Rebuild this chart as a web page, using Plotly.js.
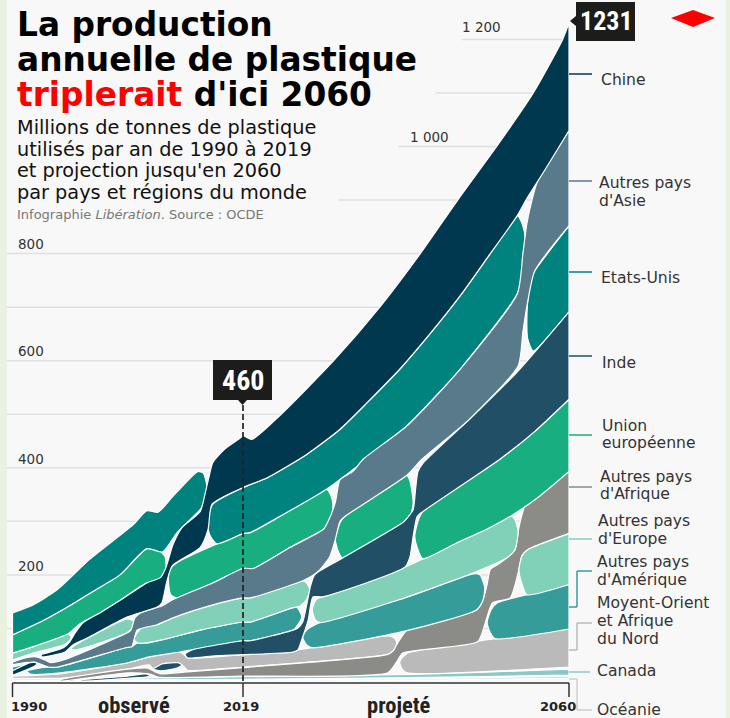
<!DOCTYPE html>
<html><head><meta charset="utf-8">
<script src="https://cdn.plot.ly/plotly-3.0.1.min.js"></script>
<style>html,body{margin:0;padding:0;background:#f8f8f8}#c{width:730px;height:718px}</style>
</head><body><div id="c"></div>
<script>
// [year, million tonnes] outlines, one list per visible piece of each band
const chine1=[[1990,21],[1991,28],[1992.2,36],[1993,36],[1993,32],[1992,24],[1990.4,15],[1990,13]];
const chine2=[[1993.6,51],[1994.8,56],[1996.4,64],[1997.2,75],[1997.9,92],[1998.9,111],[2001,129],[2003.5,152],[2006.9,185],[2008.6,195],[2009.3,214],[2010.2,257],[2011.3,288],[2013.6,318],[2014.2,350],[2014.7,382],[2015.2,410],[2016.7,435],[2018.6,455],[2019,460],[2020.1,453],[2023.8,500],[2030.4,600],[2036.2,700],[2041.3,800],[2046,900],[2050.9,1000],[2055.5,1100],[2059.2,1200],[2060,1231],[2060,1030],[2057,957],[2054.7,903],[2053.5,871],[2050,798],[2046.3,721],[2042.5,650],[2038.7,584],[2034.7,523],[2031.2,472],[2027,425],[2022.1,382],[2019,363],[2015.1,332],[2014.6,285],[2013.6,251],[2010.1,217],[2009.4,187],[2008.8,148],[2008.2,140],[2004.2,120],[1999.4,82],[1997.6,69],[1996.6,56],[1993.7,47]];
const usa1=[[1990,129],[1992.6,144],[1995.6,172],[1999.7,229],[2005.2,294],[2006.9,320],[2008.3,317],[2010.2,347],[2013.3,393],[2014,390],[2014.5,360],[2014,332],[2013.6,322],[2010.7,279],[2008.9,243],[2006.9,249],[2003.5,200],[2000.1,169],[1996.9,140],[1993.5,112],[1990,88]];
const usa2=[[2014.5,300],[2015.2,332],[2019,363],[2022.1,382],[2027,425],[2031.2,472],[2034.7,523],[2038.7,584],[2042.5,650],[2046.3,721],[2050,798],[2053.5,871],[2054.1,856],[2054.5,828],[2054.1,762],[2053.5,725],[2046.3,584],[2039.6,478],[2031.2,378],[2029.5,360],[2023.6,309],[2019.9,279],[2019,277],[2015.7,258],[2014.8,275]];
const usa3=[[2055.7,768],[2060,852],[2060,691],[2055.5,618],[2054.8,641],[2054.7,665],[2054.8,710],[2055.2,753]];
const asie1=[[1990,37],[1991.6,45],[1993,47],[1994.1,41],[1994.8,36],[1996.4,41],[2004.2,90],[2004.9,97],[2005.4,120],[2006.3,131],[2008.8,142],[2010.2,154],[2015.2,185],[2019,212],[2020.3,212],[2024.9,251],[2029.1,285],[2029.7,300],[2030.6,335],[2031.2,378],[2032.8,393],[2034.1,416],[2039.6,478],[2046.3,584],[2053.5,725],[2054.2,800],[2054.7,856],[2055.4,903],[2056,933],[2060,1030],[2060,852],[2055.7,768],[2054.8,710],[2054.2,654],[2053.6,590],[2047.5,491],[2041.5,416],[2039.6,386],[2031.8,309],[2031.2,300],[2030.6,266],[2029.9,234],[2028.4,206],[2026.5,189],[2019.9,157],[2019,157],[2015.2,144],[2010.2,120],[2008.2,107],[2005.7,97],[2005,66],[2004.2,64],[1995.7,28],[1994.5,28],[1992.8,37],[1991.6,36],[1990,32]];
const inde1=[[1997.2,2],[2001,7],[2004.5,11],[2006.8,15],[2007.3,12],[2006.8,9],[2004.5,7],[1999.7,2]];
const inde2=[[2007.7,24],[2008.9,34],[2010.8,36],[2011.3,32],[2010.7,26],[2008.6,21]];
const inde3=[[2011.7,52],[2012.6,60],[2019,77],[2019.9,77],[2025.3,97],[2025.9,101],[2026.5,112],[2027,144],[2027.5,180],[2028,200],[2028.7,208],[2031.2,229],[2039.1,298],[2039.7,307],[2040.4,322],[2040.7,360],[2041,393],[2041.6,408],[2047.5,491],[2053.5,579],[2060,691],[2060,528],[2055.7,468],[2051.3,416],[2041.6,318],[2040.9,309],[2040.4,272],[2040,234],[2039.4,215],[2029,159],[2027.8,159],[2027.2,116],[2026.5,84],[2025.9,60],[2025.3,56],[2019,51],[2015.5,49],[2012,45]];
const ue1=[[1990,88],[1993.5,112],[1996.9,140],[2000.1,169],[2003.5,200],[2006.9,249],[2008.5,245],[2009.2,234],[2009.3,210],[2008.9,182],[2008.3,187],[2006.9,185],[2003.5,152],[2001,129],[1998.5,109],[1997,90],[1992.6,66],[1990,54]];
const ue2=[[2009.6,191],[2009.8,210],[2010.7,223],[2015.7,258],[2019,277],[2019.9,279],[2023.6,309],[2029.5,360],[2030,350],[2030.3,332],[2030.1,307],[2029.7,292],[2029.1,285],[2024.9,251],[2020.3,212],[2019,212],[2015.2,185],[2010.7,157],[2009.9,163]];
const ue3=[[2031.6,307],[2039.6,386],[2040,375],[2040.4,335],[2040.1,313],[2039.6,300],[2031.6,230],[2031,243],[2030.6,266],[2031,290]];
const ue4=[[2041.6,318],[2051.3,416],[2055.7,468],[2060,528],[2060,393],[2056.3,347],[2053,313],[2050,288],[2045.9,260],[2041.6,230],[2041,247],[2040.6,272],[2041,300]];
const afrique1=[[1996,4],[2004.5,24],[2007,26],[2007.9,19],[2008.6,15],[2012,19],[2019,27],[2037.1,51],[2037.9,58],[2038.3,69],[2038.7,79],[2039.6,96],[2048.4,135],[2049.2,154],[2049.7,182],[2050.1,210],[2051,219],[2052.2,232],[2053.2,247],[2053.6,281],[2054.1,313],[2054.7,337],[2060,393],[2060,277],[2054.8,247],[2054.1,236],[2053.7,210],[2052.6,157],[2050.4,148],[2049.7,122],[2049.4,107],[2048.5,75],[2039.1,54],[2038.3,37],[2037.2,17],[2019,11],[2008.3,9],[2007.3,15],[2004.5,17],[1996,2]];
const europe1=[[1990,54],[1992.6,66],[1996.2,88],[1997,90],[1997.4,84],[1997,75],[1996.4,69],[1992.6,54],[1990,41]];
const europe2=[[1997.6,66],[1999.7,84],[2004.4,118],[2005.2,114],[2005.3,105],[2004.4,92],[1997.9,60],[1997.3,62]];
const europe3=[[2005.7,92],[2006.7,107],[2008.2,107],[2010.2,120],[2015.2,144],[2019,157],[2019.9,157],[2026.5,189],[2027,185],[2027.4,172],[2027,154],[2026.2,142],[2025.3,139],[2019.9,112],[2019,112],[2013.6,97],[2008.9,79],[2006.9,73],[2005.7,73],[2005.3,79]];
const europe4=[[2029,159],[2039.4,215],[2041.6,230],[2045.9,260],[2050,288],[2052.6,311],[2053.2,303],[2053.6,281],[2053.2,247],[2052.2,232],[2048,204],[2038.7,154],[2028.7,111],[2028.1,116],[2027.7,135],[2028.2,154]];
const europe5=[[2054.8,247],[2060,277],[2060,182],[2054.7,163],[2054.1,182],[2053.7,210],[2054.1,236]];
const amerique1=[[1990,28],[1991.3,32],[1991.8,30],[1991.2,24],[1990,21]];
const amerique2=[[1991.8,21],[1992.6,24],[1994.5,28],[1995.7,28],[2004.2,64],[2005,66],[2005.7,73],[2006.9,73],[2008.9,79],[2013.6,97],[2019,112],[2019.9,112],[2025.3,139],[2025.8,139],[2026.4,122],[2025.8,105],[2025.3,97],[2019.9,77],[2019,77],[2012.6,60],[2011.1,56],[2007.2,47],[2004.5,36],[1996,17],[1992.2,15]];
const amerique3=[[2027,97],[2028.7,111],[2038.7,154],[2048,202],[2048.8,200],[2049.4,176],[2049.2,154],[2048.4,135],[2039.6,96],[2027.7,64],[2027,69],[2026.5,84]];
const amerique4=[[2051,148],[2054.7,163],[2060,182],[2060,99],[2050.7,81],[2050.1,92],[2049.7,111],[2050.2,135]];
const moyen1=[[1990,11],[1993.5,13],[1996,15],[2004.5,36],[2007.2,47],[2010.8,56],[2011.6,51],[2012,45],[2019,51],[2025.3,56],[2025.9,60],[2027.7,64],[2037.5,86],[2038.2,79],[2038.3,69],[2037.9,58],[2037.1,51],[2019,28],[2012,22],[2011.6,28],[2011.3,32],[2010.8,36],[2008.9,34],[2007.7,24],[2007.2,32],[2004.5,24],[1996,7],[1993.5,7],[1990,7]];
const moyen2=[[2039.7,54],[2050.7,81],[2060,99],[2060,28],[2039.6,17],[2039,24],[2038.7,37],[2039.1,47]];
const canada1=[[1990,6],[2005,7],[2019,10],[2040,14],[2060,24],[2060,13],[2040,8],[2019,5],[2005,4],[1990,3]];
const oceanie1=[[1990,3],[2005,3.5],[2019,4],[2040,6],[2060,11],[2060,7],[2040,3],[2019,1.5],[2005,1],[1990,1]];

const series=[
 {name:'Océanie',color:'#c9e2e2',pieces:[oceanie1]},
 {name:'Canada',color:'#8cc8c8',pieces:[canada1]},
 {name:'Moyen-Orient et Afrique du Nord',color:'#bababa',pieces:[moyen1,moyen2]},
 {name:"Autres pays d'Afrique",color:'#8b8b88',pieces:[afrique1]},
 {name:"Autres pays d'Amérique",color:'#369c9a',pieces:[amerique1,amerique2,amerique3,amerique4]},
 {name:"Autres pays d'Europe",color:'#80d1b7',pieces:[europe1,europe2,europe3,europe4,europe5]},
 {name:'Union européenne',color:'#18ae80',pieces:[ue1,ue2,ue3,ue4]},
 {name:'Etats-Unis',color:'#00827f',pieces:[usa1,usa2,usa3]},
 {name:'Inde',color:'#214f66',pieces:[inde1,inde2,inde3]},
 {name:"Autres pays d'Asie",color:'#587a8a',pieces:[asie1]},
 {name:'Chine',color:'#00384f',pieces:[chine1,chine2]}
];
const gridVals=[100,200,300,400,500,600,700,800,900,1000,1100,1200];
const gridFrom=[1989.3,1989.3,1989.3,1989.3,1989.3,1989.3,1989.3,1989.3,2031,2038.5,2043.2,2046.5];
const total2019=460, total2060=1231;

const Sx=7.95, Sy=0.5355;
const xRange=[1990-12.5/Sx,2060+161/Sx], yRange=[-36/Sy,682/Sy];
const traces=[];
series.forEach(s=>s.pieces.forEach(p=>{
  const xs=[],ys=[];
  p.forEach(q=>{const n=(q[0]===1990||q[0]===2060)?3:1;for(let i=0;i<n;i++){xs.push(q[0]);ys.push(q[1]);}});
  xs.push(xs[0]);ys.push(ys[0]);
  traces.push({type:'scatter',mode:'lines',x:xs,y:ys,name:s.name,fill:'toself',fillcolor:s.color,
    line:{color:'#ffffff',width:1.2,shape:'spline',smoothing:0.6,simplify:false},hoverinfo:'skip',showlegend:false});
}));

const X=p=>p/730, Y=p=>1-p/718;
const label='"DejaVu Sans",sans-serif';
const narrow='"Liberation Sans Narrow","Roboto Condensed",Roboto,sans-serif';
const wide='"DejaVu Sans",sans-serif';
function txt(x,y,text,size,color,family){return {xref:'paper',yref:'paper',x:X(x-2),y:Y(y),text,showarrow:false,xanchor:'left',yanchor:'middle',align:'left',font:{family:family||label,size,color}};}
const LS=15.6;
const annotations=[
 txt(17,25,'<b>La production</b>',32.8,'#000',wide),
 txt(17,60,'<b>annuelle de plastique</b>',32.8,'#000',wide),
 txt(17,95,'<b><span style="color:#fe0000">triplerait</span> d\'ici 2060</b>',32.8,'#000',wide),
 txt(17,128,'Millions de tonnes de plastique',19.3,'#111',wide),
 txt(17,150,'utilisés par an de 1990 à 2019',19.3,'#111',wide),
 txt(17,171,'et projection jusqu\'en 2060',19.3,'#111',wide),
 txt(17,193,'par pays et régions du monde',19.3,'#111',wide),
 txt(17,215,'Infographie <i>Libération</i>. Source : OCDE',13,'#777'),
 txt(18,566,'200',13.5,'#333'),txt(18,459,'400',13.5,'#333'),txt(18,351,'600',13.5,'#333'),txt(18,244,'800',13.5,'#333'),
 txt(410,137,'1 000',13.5,'#333'),txt(462,27,'1 200',13.5,'#333'),
 txt(601,80,'Chine',LS,'#333'),
 txt(599,183,'Autres pays',LS,'#333'),txt(599,201,"d'Asie",LS,'#333'),
 txt(601,278,'Etats-Unis',LS,'#333'),
 txt(602,363,'Inde',LS,'#333'),
 txt(602,426,'Union',LS,'#333'),txt(602,443,'européenne',LS,'#333'),
 txt(600,477,'Autres pays',LS,'#333'),txt(600,494,"d'Afrique",LS,'#333'),
 txt(598,521,'Autres pays',LS,'#333'),txt(598,539,"d'Europe",LS,'#333'),
 txt(597,562,'Autres pays',LS,'#333'),txt(597,580,"d'Amérique",LS,'#333'),
 txt(597,603,'Moyent-Orient',LS,'#333'),txt(597,621,'et Afrique',LS,'#333'),txt(597,639,'du Nord',LS,'#333'),
 txt(597,671,'Canada',LS,'#333'),
 txt(597,710,'Océanie',LS,'#333'),
 txt(11,706,'<b>1990</b>',13,'#222',wide),
 txt(223,706,'<b>2019</b>',13,'#222',wide),
 txt(540,706,'<b>2060</b>',13,'#222',wide),
 txt(98,705,'<b>observé</b>',22.5,'#222',narrow),
 txt(367,705,'<b>projeté</b>',22.5,'#222',narrow),
 {xref:'paper',yref:'paper',x:X(243),y:Y(380),text:'<b>'+total2019+'</b>',showarrow:false,xanchor:'center',yanchor:'middle',font:{family:narrow,size:28,color:'#fff'}},
 {xref:'paper',yref:'paper',x:X(606),y:Y(21),text:'<b>'+total2060+'</b>',showarrow:false,xanchor:'center',yanchor:'middle',font:{family:narrow,size:26,color:'#fff'}}
];
function line(x0,y0,x1,y1,color,w,dash){return {type:'line',xref:'paper',yref:'paper',x0:X(x0),y0:Y(y0),x1:X(x1),y1:Y(y1),line:{color,width:w,dash:dash||'solid'}};}
function path(pts,fill){return {type:'path',xref:'paper',yref:'paper',path:'M'+pts.map(p=>X(p[0])+','+Y(p[1])).join(' L')+' Z',fillcolor:fill,line:{width:0}};}
const shapes=[
 {type:'rect',xref:'paper',yref:'paper',x0:0,x1:X(7),y0:0,y1:1,fillcolor:'#e9f2e0',line:{width:0},layer:'below'},
 {type:'rect',xref:'paper',yref:'paper',x0:X(726),x1:1,y0:0,y1:1,fillcolor:'#e9f2e0',line:{width:0},layer:'below'}
];
gridVals.forEach((v,i)=>shapes.push({type:'line',xref:'x',yref:'y',x0:gridFrom[i],x1:2060,y0:v,y1:v,line:{color:'#e0e0e0',width:1.5},layer:'below'}));
shapes.push(
 line(243,405,243,683,'#222',1.7,'6px,3px'),
 line(12.5,683,569,683,'#333',1.5),line(12.5,683,12.5,697,'#333',1.5),line(243,683,243,697,'#333',1.5),line(569,683,569,697,'#333',1.5),
 line(569,74,592,74,'#00384f',1.5),line(569,181,592,181,'#587a8a',1.5),line(569,272,592,272,'#00827f',1.5),
 line(569,356,592,356,'#214f66',1.5),line(569,435,592,435,'#18ae80',1.5),line(569,487,592,487,'#8b8b88',1.5),
 line(569,539,592,539,'#80d1b7',1.5),
 line(569,607,577,607,'#369c9a',1.5),line(577,607,577,571,'#369c9a',1.5),line(577,571,592,571,'#369c9a',1.5),
 line(569,650,577,650,'#bababa',1.5),line(577,650,577,623,'#bababa',1.5),line(577,623,592,623,'#bababa',1.5),
 line(569,672,590,672,'#8cc8c8',1.5),
 line(569,679,577,679,'#cfcfcf',1.5),line(577,679,577,710,'#cfcfcf',1.5),line(577,710,592,710,'#cfcfcf',1.5),
 path([[213,360],[272,360],[272,400],[247,400],[242.5,405],[238,400],[213,400]],'#1c1c1a'),
 path([[576,2],[635,2],[635,41],[576,41],[576,26],[570,21],[576,16]],'#1c1c1a'),
 path([[671,18],[693,10],[715,18],[693,27]],'#fe0000')
);
const xa={range:xRange,visible:false,fixedrange:true},ya={range:yRange,visible:false,fixedrange:true};
Plotly.newPlot('c',traces,{width:730,height:718,margin:{l:0,r:0,t:0,b:0},paper_bgcolor:'#f8f8f8',plot_bgcolor:'#f8f8f8',xaxis:xa,yaxis:ya,shapes,annotations,showlegend:false},{displayModeBar:false,staticPlot:true});
</script></body></html>
